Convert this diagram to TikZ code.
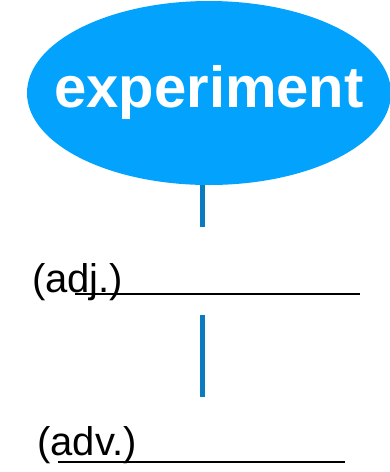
\documentclass[tikz,border=0pt]{standalone}
\usepackage{fontspec}
\setmainfont{Liberation Sans}
\usetikzlibrary{shapes.geometric}
\definecolor{bubble}{HTML}{03A3FD}
\definecolor{stem}{HTML}{0A7BC0}

\begin{document}
\begin{tikzpicture}[
  x=1pt, y=-1pt,
  word/.style={ellipse, fill=bubble, text=white, inner sep=0pt,
    minimum width=364pt, minimum height=184pt,
    font=\fontsize{58}{60}\selectfont\bfseries},
  speech/.style={anchor=base west, inner sep=0pt, font=\fontsize{40}{44}\selectfont},
  link/.style={draw=stem, line width=4.5pt},
  blank/.style={draw=black, line width=2pt}
]
\useasboundingbox (0,0) rectangle (389,472);
\node[word] (exp) at (209,93) {\makebox[0pt]{\raisebox{-2.5pt}{experiment}}};
\node[speech] (adj) at (32,292) {(adj.)};
\node[speech] (adv) at (37,455) {(adv.)};
\coordinate (adjtop) at (202.5,227);
\coordinate (advtop) at (202.5,315);
\coordinate (advbot) at (202.5,397);
\coordinate (adjL) at (75,294);
\coordinate (adjR) at (360,294);
\coordinate (advL) at (58,462);
\coordinate (advR) at (345,462);
\draw[link] (exp.south -| adjtop) -- (adjtop);
\draw[link] (advtop) -- (advbot);
\draw[blank] (adjL) -- (adjR);
\draw[blank] (advL) -- (advR);
\end{tikzpicture}
\end{document}
